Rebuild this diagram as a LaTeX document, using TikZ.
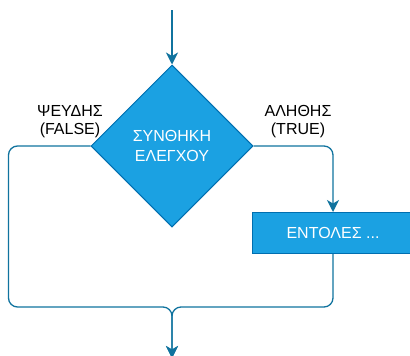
\documentclass[tikz,border=0pt]{standalone}
\usepackage{fontspec}
\setmainfont{Liberation Sans}
\usetikzlibrary{arrows.meta,shapes.geometric}
\definecolor{boxfill}{HTML}{1BA1E2}
\definecolor{boxline}{HTML}{006EAF}
\definecolor{flowline}{HTML}{10739E}
\tikzset{
  txt/.style={font=\fontsize{16}{19.5}\selectfont, align=center},
  block/.style={txt, fill=boxfill, draw=boxline, line width=1pt, text=white, inner sep=0pt},
  flow/.style={draw=flowline, line width=1.3pt, rounded corners=9pt,
    -{Stealth[length=12pt,width=12pt,inset=3.5pt]}}
}

\begin{document}
\begin{tikzpicture}[x=1pt,y=-1pt]
  \useasboundingbox (0,0) rectangle (410,356);
  \clip (0,0) rectangle (410,356);
  % Decision and statements
  \node[block, diamond, aspect=1, minimum width=162pt, minimum height=162pt] (cond) at (172,146) {ΣΥΝΘΗΚΗ\\ΕΛΕΓΧΟΥ};
  \node[block, rectangle, minimum width=162pt, minimum height=41pt] (cmds) at (333,233) {ΕΝΤΟΛΕΣ ...};
  % Entry / exit points
  \coordinate (in) at (172,10);
  \coordinate (merge) at (172,307);
  \coordinate (out) at (172,358);
  % Flow lines
  \draw[flow] (in) -- (cond.north);
  \draw[flow] (cond.east) -| (cmds.north);
  \draw[flow] (cond.west) -- ++(-82,0) |- (merge) -- (out);
  \draw[flow] (cmds.south) |- (merge) -- (out);
  % Branch labels
  \node[txt, font=\fontsize{16}{18}\selectfont] (no) at (70,122) {ΨΕΥΔΗΣ\\(FALSE)};
  \node[txt, font=\fontsize{16}{18}\selectfont] (yes) at (298,122) {ΑΛΗΘΗΣ\\(TRUE)};
\end{tikzpicture}
\end{document}
